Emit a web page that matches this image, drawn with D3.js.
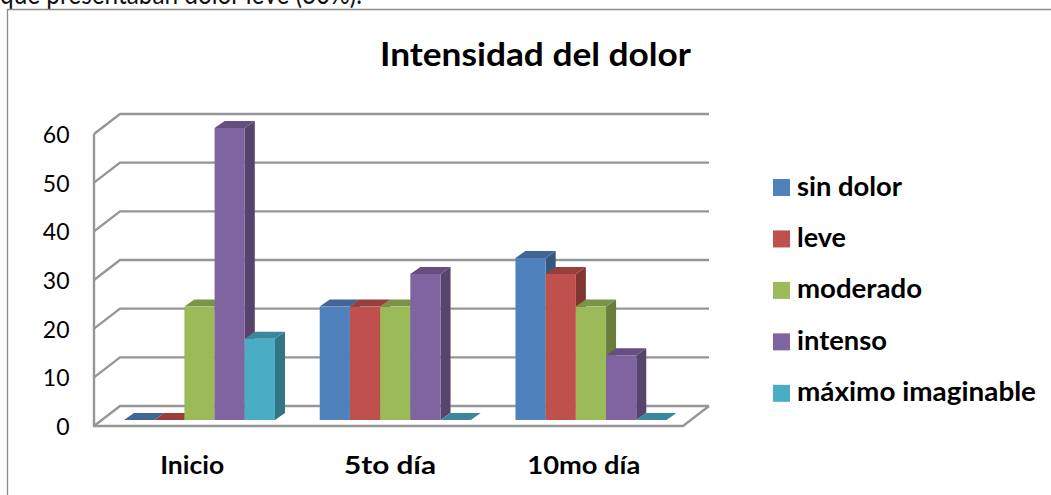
<!DOCTYPE html>
<html><head><meta charset="utf-8">
<script src="https://cdn.jsdelivr.net/npm/d3@7/dist/d3.min.js"></script>
<style>html,body{margin:0;padding:0;background:#fff;overflow:hidden}svg{display:block}text{font-family:Lato,"Open Sans",sans-serif}</style>
</head><body><svg id="c" width="1051" height="495"></svg>
<script>
const categories = ["Inicio","5to día","10mo día"];
const seriesNames = ["sin dolor","leve","moderado","intenso","máximo imaginable"];
const sinDolor = [0,23.3,33.3];
const leve = [0,23.3,30];
const moderado = [23.3,23.3,23.3];
const intenso = [60,30,13.3];
const maximo = [16.7,0,0];
const yTicks = [0,10,20,30,40,50,60];
const seriesValues = [sinDolor,leve,moderado,intenso,maximo];
const colors = ["#4F81BD","#C0504D","#9BBB59","#8064A2","#4BACC6"];
const svg = d3.select("#c");
const grid="#969696";
svg.append("text").attr("x",0).attr("y",4).attr("font-size",29).text("que presentaban dolor leve (30%).").attr("textLength",362).attr("lengthAdjust","spacingAndGlyphs").attr("fill","#111");
svg.append("path").attr("d","M7.5,495V9.5H1051").attr("fill","none").attr("stroke","#8c8c8c").attr("stroke-width",1.3);
svg.append("text").attr("x",535.5).attr("y",66).attr("text-anchor","middle").attr("font-size",33).attr("font-weight",700).attr("textLength",311).attr("lengthAdjust","spacingAndGlyphs").attr("fill","#000").text("Intensidad del dolor");
const y = d3.scaleLinear().domain([0,60]).range([426,134]);
const x = d3.scaleBand().domain(categories).range([94,683]);
const dx=26, dy=-20;
const g = svg.append("g").attr("fill","none").attr("stroke",grid).attr("stroke-width",2.4);
yTicks.forEach(t=>{
  g.append("path").attr("d",`M${x.range()[0]},${y(t)}l${dx},${dy}H${x.range()[1]+dx}`);
});
g.append("path").attr("d",`M94,${y(60)}V${y(0)}H683l${dx},${dy}`);
svg.append("g").selectAll("text").data(yTicks).join("text").attr("x",69.5).attr("y",d=>y(d)+9).attr("text-anchor","end").attr("font-size",23).attr("fill","#000").text(d=>d);
const inner = d3.scaleBand().domain(d3.range(5)).range([0,151]);
const by = d3.scaleLinear().domain([0,60]).range([420,128]);
const bdx=10, bdy=-7;
const bars = svg.append("g");
categories.forEach((c,i)=>{
  const cx = x(c)+30-i*0.6;
  seriesValues.forEach((s,k)=>{
    const v=s[i], col=d3.color(colors[k]);
    const l=cx+inner(k), w=inner.bandwidth(), t=by(v), b=by(0);
    const gg=bars.append("g");
    gg.append("path").attr("d",`M${l+w},${t}l${bdx},${bdy}V${b+bdy}l${-bdx},${-bdy}Z`).attr("fill",col.darker(1.1));
    gg.append("path").attr("d",`M${l},${t}l${bdx},${bdy}h${w}l${-bdx},${-bdy}Z`).attr("fill",col.darker(0.65));
    if(v>0) gg.append("rect").attr("x",l).attr("y",t).attr("width",w).attr("height",b-t).attr("fill",colors[k]);
  });
});
const catShift = d3.scaleOrdinal().domain(categories).range([0,1.5,-1]);
svg.append("g").selectAll("text").data(categories).join("text")
 .attr("x",d=>x(d)+x.bandwidth()/2+catShift(d)).attr("y",474).attr("text-anchor","middle")
 .attr("font-size",25).attr("font-weight",700).attr("textLength",d=>d==="Inicio"?64:d==="5to día"?92:113).attr("lengthAdjust","spacingAndGlyphs").attr("fill","#000").text(d=>d);
const leg = d3.scalePoint().domain(seriesNames).range([187.5,393.3]);
const lg=svg.append("g");
const legW=[105,49,125,90,239];
seriesNames.forEach((n,k)=>{
  lg.append("rect").attr("x",773).attr("y",leg(n)-8.5).attr("width",17).attr("height",17).attr("fill",colors[k]);
  lg.append("text").attr("x",797).attr("y",leg(n)+8).attr("font-size",26).attr("font-weight",700).attr("textLength",legW[k]).attr("lengthAdjust","spacingAndGlyphs").attr("fill","#000").text(n);
});
</script></body></html>
